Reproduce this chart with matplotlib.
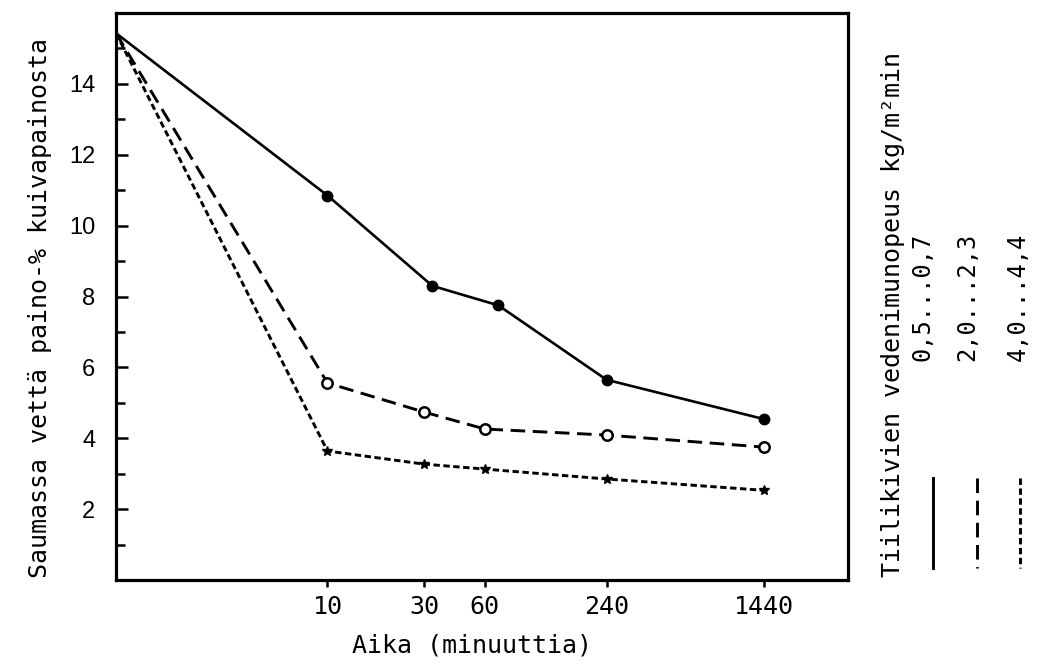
import matplotlib
matplotlib.use("Agg")
import matplotlib.pyplot as plt
from matplotlib.lines import Line2D
from matplotlib.ticker import NullLocator, FixedLocator


# time in minutes; first point sits on the left edge of the axis (start of test)
START_TIME = 0.9
TICK_TIMES = [10, 30, 60, 240, 1440]
TICK_LABELS = ["10", "30", "60", "240", "1440"]

# water in joint, weight-% of dry weight
TIME_LOW = [START_TIME, 10, 33, 70, 240, 1440]
WATER_LOW = [15.43, 10.85, 8.30, 7.75, 5.65, 4.54]

TIME_MID = [START_TIME, 10, 30, 60, 240, 1440]
WATER_MID = [15.43, 5.56, 4.74, 4.26, 4.09, 3.75]

TIME_HIGH = [START_TIME, 10, 30, 60, 240, 1440]
WATER_HIGH = [15.43, 3.64, 3.27, 3.13, 2.85, 2.53]

RANGE_LABELS = ["0,5...0,7", "2,0...2,3", "4,0...4,4"]

W, H = 1038, 667
MONO = "DejaVu Sans Mono"


def px(x, y):
    return x / W, 1 - y / H


fig = plt.figure(figsize=(W / 100, H / 100), dpi=100)
ax = fig.add_axes([116 / W, 1 - 580 / H, 732 / W, 567 / H])

ax.plot(TIME_LOW, WATER_LOW, color="black", linewidth=1.9,
        marker="o", markersize=7.5, markerfacecolor="black", markevery=list(range(1, 6)))
ax.plot(TIME_MID, WATER_MID, color="black", linewidth=2.1, dashes=(5, 2.6),
        marker="o", markersize=7.5, markerfacecolor="white", markeredgewidth=1.8,
        markevery=list(range(1, 6)))
ax.plot(TIME_HIGH, WATER_HIGH, color="black", linewidth=2.1, dashes=(2.2, 1.2),
        marker="*", markersize=7.5, markevery=list(range(1, 6)))

ax.set_xscale("log")
ax.set_xlim(START_TIME, 3750)
ax.set_ylim(0, 16)

ax.xaxis.set_major_locator(FixedLocator(TICK_TIMES))
ax.xaxis.set_minor_locator(NullLocator())
ax.set_xticklabels(TICK_LABELS, fontfamily=MONO, fontsize=18)
ax.tick_params(axis="x", direction="out", length=5, width=1.8, pad=6)

ax.set_yticks([2, 4, 6, 8, 10, 12, 14])
ax.yaxis.set_minor_locator(FixedLocator([1, 3, 5, 7, 9, 11, 13, 15]))
ax.set_yticklabels(["2", "4", "6", "8", "10", "12", "14"], fontfamily="Liberation Sans", fontsize=17)
ax.tick_params(axis="y", which="major", direction="in", length=8.5, width=1.8, pad=15)
ax.tick_params(axis="y", which="minor", direction="in", length=6.5, width=1.8)

for spine in ax.spines.values():
    spine.set_linewidth(2.3)

fig.text(*px(40, 308), "Saumassa vettä paino-% kuivapainosta", rotation=90,
         ha="center", va="center", fontfamily=MONO, fontsize=18)
fig.text(*px(472, 645), "Aika (minuuttia)", ha="center", va="center",
         fontfamily=MONO, fontsize=18)

# legend on the right, written sideways
fig.text(*px(893, 577), "Tiilikivien vedenimunopeus kg/m²min", rotation=90,
         ha="center", va="bottom", fontfamily=MONO, fontsize=18)

styles = [dict(linestyle="-"), dict(dashes=(5, 2.6)), dict(dashes=(2.2, 1.2))]
label_x = [923, 967, 1018]
line_x = [933, 977, 1020]
for label, lx, sx, style in zip(RANGE_LABELS, label_x, line_x, styles):
    fig.text(*px(lx, 297), label, rotation=90, ha="center", va="center",
             fontfamily=MONO, fontsize=17)
    x0, y0 = px(sx, 478)
    x1, y1 = px(sx, 568)
    fig.add_artist(Line2D([x0, x1], [y0, y1], transform=fig.transFigure,
                          color="black", linewidth=2.1, **style))

fig.savefig("out.png", dpi=100)
